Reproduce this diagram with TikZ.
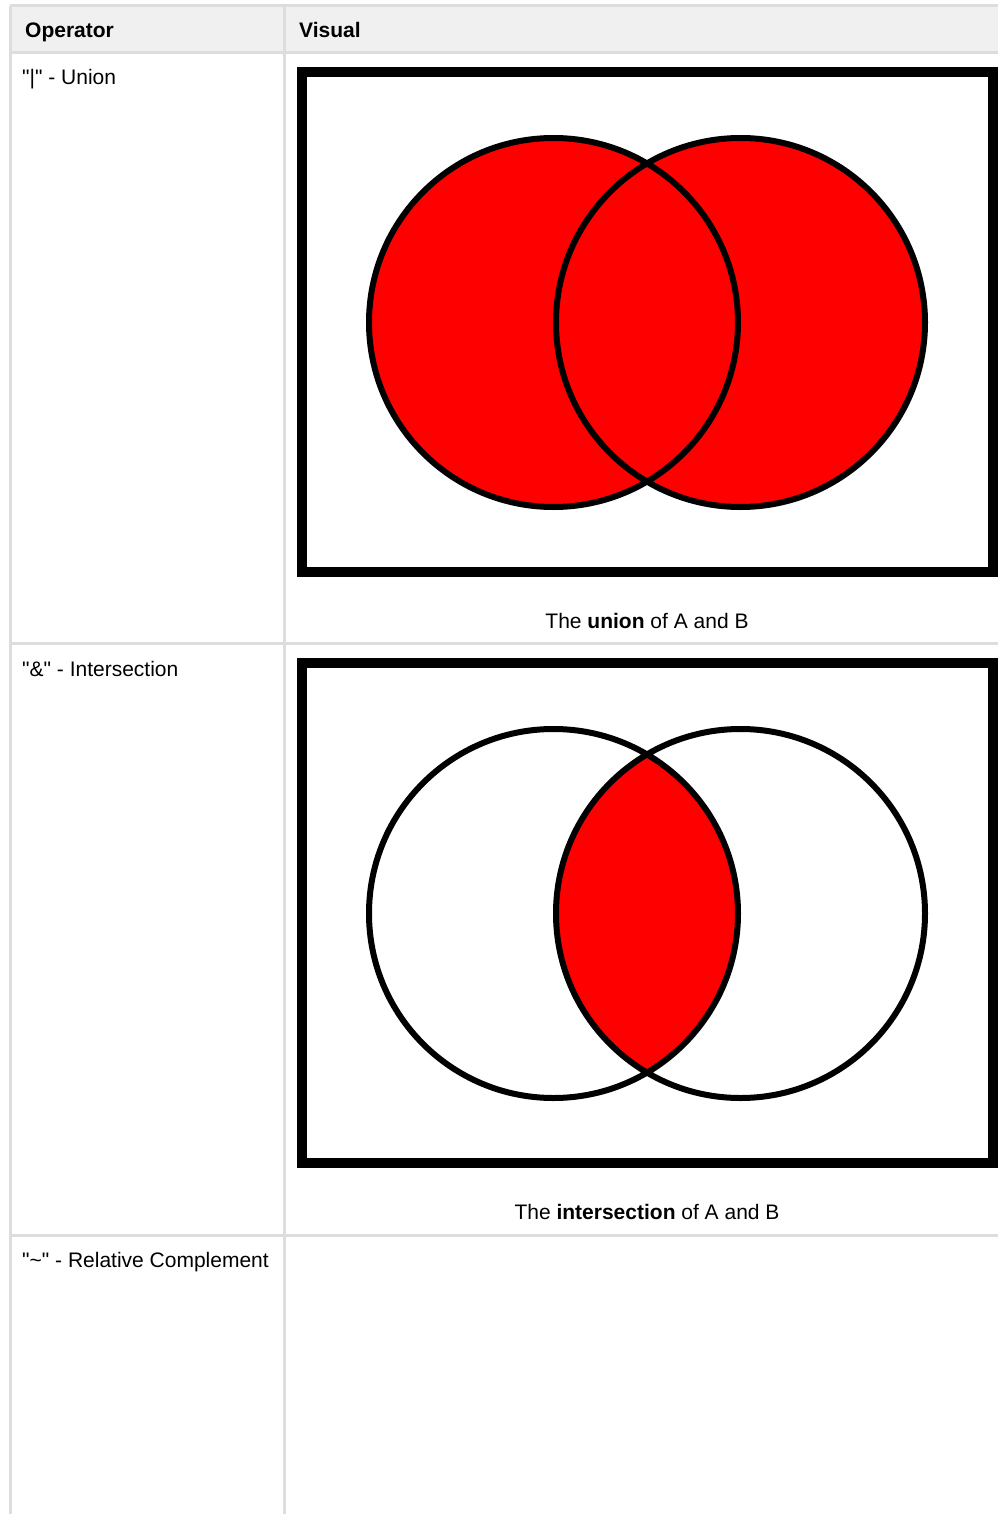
\documentclass[tikz,border=0pt]{standalone}
\usepackage{fontspec}
\setmainfont{Liberation Sans}[Ligatures=TeXOff]
\usepackage{tikz}
\usetikzlibrary{positioning}
\usepackage{xcolor}
\definecolor{gridgray}{RGB}{221,221,221}
\definecolor{headbg}{RGB}{240,240,240}
\definecolor{setred}{RGB}{255,0,0}

\begin{document}
\begin{tikzpicture}[x=1pt,y=-1pt,
    celltext/.style={anchor=base west,inner sep=0pt,font=\fontsize{21}{25}\selectfont},
    headtext/.style={celltext,font=\fontsize{21}{25}\selectfont\bfseries},
    captext/.style={anchor=base,inner sep=0pt,font=\fontsize{21}{25}\selectfont},
    gridline/.style={draw=gridgray,line width=3pt},
    venframe/.style={draw=black,line width=10pt},
    setring/.style={draw=black,line width=6pt}
]
\useasboundingbox (0,0) rectangle (998,1514);
% table grid
\fill[headbg] (10,6) rectangle (998,53);
\foreach \y in {6,53,643,1235}
    \draw[gridline] (10,\y) -- (998,\y);
\foreach \x in {10,284}
    \draw[gridline] (\x,6) -- (\x,1514);

\node[headtext] (ophead) at (25,38) {Operator};
\node[headtext] (vishead) at (299,38) {Visual};
\node[celltext] (unionop) at (22,85) {"|" - Union};
\node[celltext] (interop) at (22,676) {"\&" - Intersection};
\node[celltext] (compop) at (22,1267) {"\textasciitilde" - Relative Complement};

% union of A and B
\coordinate (uA) at (553.5,322.5);
\coordinate (uB) at (740.5,322.5);
\draw[venframe] (302,72) rectangle (993,572);
\fill[setred] (uA) circle[radius=184.5] (uB) circle[radius=184.5];
\draw[setring] (uA) circle[radius=184.5] (uB) circle[radius=184.5];
\node[captext] (unioncap) at (647,628) {The \textbf{union} of A and B};

% intersection of A and B
\coordinate (iA) at (553.5,913.5);
\coordinate (iB) at (740.5,913.5);
\draw[venframe] (302,663) rectangle (993,1163);
\begin{scope}
    \clip (iA) circle[radius=184.5];
    \fill[setred] (iB) circle[radius=184.5];
\end{scope}
\draw[setring] (iA) circle[radius=184.5] (iB) circle[radius=184.5];
\node[captext] (intercap) at (647,1219) {The \textbf{intersection} of A and B};
\end{tikzpicture}
\end{document}
